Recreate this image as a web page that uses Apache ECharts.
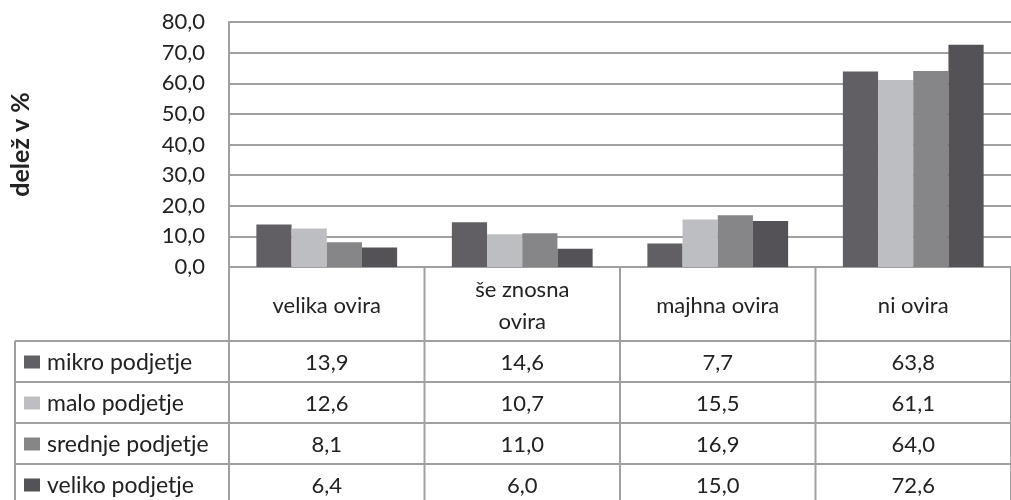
<!DOCTYPE html>
<html><head><meta charset="utf-8">
<script src="https://cdn.jsdelivr.net/npm/echarts@6/dist/echarts.min.js"></script>
<style>html,body{margin:0;padding:0;background:#fff}#c{width:1011px;height:500px}</style>
</head><body><div id="c"></div>
<script>
const categories = ['velika ovira', 'še znosna\novira', 'majhna ovira', 'ni ovira'];
const seriesNames = ['mikro podjetje', 'malo podjetje', 'srednje podjetje', 'veliko podjetje'];
const mikro = [13.9, 14.6, 7.7, 63.8];
const malo = [12.6, 10.7, 15.5, 61.1];
const srednje = [8.1, 11.0, 16.9, 64.0];
const veliko = [6.4, 6.0, 15.0, 72.6];
const colors = ['#615f63', '#bdbec2', '#868688', '#545256'];
const yTicks = { min: 0, max: 80, interval: 10 };
const yTitle = 'delež v %';

const allData = [mikro, malo, srednje, veliko];
const FONT = 'Lato';
const GRID = '#a0a0a0';
const fmt = v => v.toFixed(1).replace('.', ',');

const chart = echarts.init(document.getElementById('c'), null, { renderer: 'canvas' });
const gridTop = 22, gridBottomY = 267, gridLeft = 228, gridRightX = 1019;
chart.setOption({
  animation: false,
  textStyle: { fontFamily: FONT },
  grid: { left: gridLeft, top: gridTop, width: gridRightX - gridLeft, height: gridBottomY - gridTop, containLabel: false },
  xAxis: {
    type: 'category', data: categories,
    axisLine: { show: true, lineStyle: { color: GRID, width: 2 } },
    axisTick: { show: false }, axisLabel: { show: false }
  },
  yAxis: {
    type: 'value', min: yTicks.min, max: yTicks.max, interval: yTicks.interval,
    name: yTitle, nameLocation: 'middle', nameRotate: 90, nameGap: 196,
    nameTextStyle: { fontFamily: FONT, fontWeight: 'bold', fontSize: 25, color: '#222' },
    axisLine: { show: true, lineStyle: { color: GRID, width: 2 } },
    axisTick: { show: false },
    axisLabel: { formatter: fmt, fontFamily: FONT, fontSize: 22, color: '#222', margin: 24 },
    splitLine: { lineStyle: { color: GRID, width: 2 } }
  },
  series: seriesNames.map((n, i) => ({
    name: n, type: 'bar', data: allData[i],
    barGap: '0%', barCategoryGap: '28%',
    itemStyle: { color: colors[i] }
  }))
});

// Data table below the plot, positioned from the axis scales
const c0 = chart.convertToPixel({ xAxisIndex: 0 }, 0);
const c1 = chart.convertToPixel({ xAxisIndex: 0 }, 1);
const band = c1 - c0;
const y0 = chart.convertToPixel({ yAxisIndex: 0 }, 0);
const headerH = 74, rowH = 41, tableLeft = 15;
const g = [];
const line = (x1, y1, x2, y2) => g.push({ type: 'line', shape: { x1, y1, x2, y2 }, style: { stroke: GRID, lineWidth: 2 }, silent: true });
const bottom = 520;
for (let k = 0; k <= categories.length; k++) {
  const x = c0 - band / 2 + k * band;
  line(x, y0, x, bottom);
}
line(tableLeft, y0 + headerH, tableLeft, bottom);
for (let r = 0; r <= seriesNames.length; r++) {
  const y = y0 + headerH + r * rowH;
  line(tableLeft, y, c0 - band / 2 + categories.length * band, y);
}
categories.forEach((cat, k) => {
  const x = chart.convertToPixel({ xAxisIndex: 0 }, k);
  g.push({ type: 'text', x, y: y0 + headerH / 2 + 2, silent: true,
    style: { text: cat, fontFamily: FONT, fontSize: 22, fill: '#222', align: 'center', verticalAlign: 'middle', lineHeight: 32 } });
});
seriesNames.forEach((n, r) => {
  const yc = y0 + headerH + r * rowH + rowH / 2;
  g.push({ type: 'rect', shape: { x: tableLeft + 9, y: yc - 6, width: 16, height: 13 }, style: { fill: colors[r] }, silent: true });
  g.push({ type: 'text', x: tableLeft + 32, y: yc + 1, silent: true,
    style: { text: n, fontFamily: FONT, fontSize: 23, fill: '#222', align: 'left', verticalAlign: 'middle' } });
  allData[r].forEach((v, k) => {
    const x = chart.convertToPixel({ xAxisIndex: 0 }, k);
    g.push({ type: 'text', x, y: yc + 1, silent: true,
      style: { text: fmt(v), fontFamily: FONT, fontSize: 22, fill: '#222', align: 'center', verticalAlign: 'middle' } });
  });
});
chart.setOption({ graphic: g });
</script></body></html>
